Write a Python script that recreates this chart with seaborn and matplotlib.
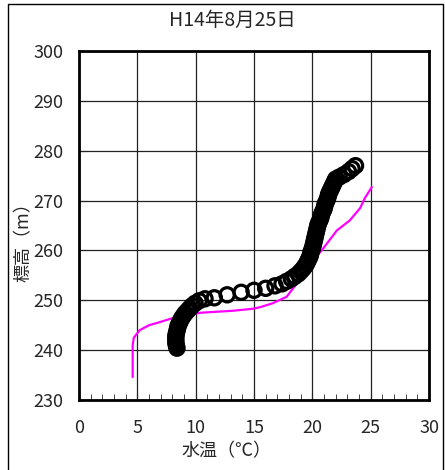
import pandas as pd
import seaborn as sns
import matplotlib.pyplot as plt
from matplotlib.patches import Rectangle
from matplotlib.ticker import MultipleLocator

# observed profile (circles)
obs_temp = [8.4, 8.35, 8.3, 8.3, 8.3, 8.3, 8.35, 8.4, 8.45, 8.5, 8.6, 8.7, 8.8, 8.95, 9.1,
            9.3, 9.5, 9.7, 9.95, 10.3, 10.8, 11.6, 12.7, 13.9, 15.0, 16.0, 16.8, 17.4, 17.8,
            18.2, 18.5, 18.8, 19.0, 19.2, 19.35, 19.5, 19.6, 19.7, 19.8, 19.85, 19.9, 20.0,
            20.05, 20.1, 20.15, 20.2, 20.25, 20.3, 20.35, 20.4, 20.45, 20.5, 20.6, 20.7, 20.75,
            20.8, 20.9, 21.0, 21.05, 21.1, 21.2, 21.3, 21.35, 21.4, 21.5, 21.6, 21.7, 21.8,
            21.9, 22.0, 22.3, 22.7, 23.1, 23.4, 23.7]
obs_elev = [240.4, 240.9, 241.4, 241.9, 242.4, 242.9, 243.4, 243.9, 244.4, 244.9, 245.4,
            245.9, 246.4, 246.9, 247.4, 247.9, 248.4, 248.9, 249.4, 249.9, 250.3, 250.5,
            251.1, 251.6, 252.0, 252.4, 252.9, 253.3, 253.8, 254.3, 254.8, 255.3, 255.8,
            256.3, 256.8, 257.3, 257.8, 258.3, 258.8, 259.3, 259.8, 260.3, 260.8, 261.3,
            261.8, 262.3, 262.8, 263.3, 263.8, 264.3, 264.8, 265.3, 265.8, 266.3, 266.8,
            267.3, 267.8, 268.3, 268.8, 269.3, 269.8, 270.3, 270.8, 271.3, 271.8, 272.3,
            272.8, 273.3, 273.8, 274.3, 274.7, 275.2, 275.8, 276.4, 277.0]

# calculated profile (magenta line)
calc_temp = [4.6, 4.6, 4.6, 4.7, 5.2, 6.0, 6.9, 8.4, 10.4, 13.2, 14.9, 15.5, 16.6, 17.8,
             18.7, 19.2, 20.0, 20.8, 22.1, 23.2, 24.1, 24.5, 25.1]
calc_elev = [234.6, 238.0, 241.0, 242.5, 244.0, 245.0, 245.6, 246.7, 247.5, 247.9, 248.3,
             248.6, 249.4, 250.7, 253.5, 254.7, 257.8, 260.0, 264.0, 266.0, 268.5, 270.5,
             272.7]

obs = pd.DataFrame({"temp": obs_temp, "elev": obs_elev})
calc = pd.DataFrame({"temp": calc_temp, "elev": calc_elev})

sns.set_style("white")
plt.rcParams['font.family'] = ['Noto Sans CJK JP', 'DejaVu Sans']

fig = plt.figure(figsize=(4.45, 4.70), dpi=100)
ax = fig.add_axes([79 / 445, 70 / 470, 350 / 445, 349 / 470])

sns.lineplot(data=calc, x="temp", y="elev", orient="y", color="#FF00FF", linewidth=1.6, ax=ax)
sns.scatterplot(data=obs, x="temp", y="elev", s=105, facecolor="none", edgecolor="black",
                linewidth=2.3, ax=ax, zorder=3)

ax.set_xlim(0, 30)
ax.set_ylim(230, 300)
ax.xaxis.set_major_locator(MultipleLocator(5))
ax.xaxis.set_minor_locator(MultipleLocator(1))
ax.yaxis.set_major_locator(MultipleLocator(10))
ax.grid(True, which="major", color="#222222", linewidth=0.9)
ax.set_axisbelow(True)
ax.tick_params(axis="x", which="major", direction="in", length=5, pad=14, labelsize=13, bottom=True)
ax.tick_params(axis="x", which="minor", direction="in", length=4, bottom=True)
ax.tick_params(axis="y", which="major", direction="in", length=5, pad=11, labelsize=13, left=True)
for s in ax.spines.values():
    s.set_color("black")
    s.set_linewidth(2)

ax.set_xlabel("水温（℃）", fontsize=13)
ax.set_ylabel("標高（m）", fontsize=13)
ax.xaxis.set_label_coords(0.42, -0.12)
ax.yaxis.set_label_coords(-0.133, 0.464)

fig.text(232 / 445, 1 - 20 / 470, "H14年8月25日", ha="center", va="center", fontsize=14)
fig.add_artist(Rectangle((8 / 445, -0.01), 435 / 445, 1 - 4 / 470 + 0.01,
                         transform=fig.transFigure, fill=False, edgecolor="black", linewidth=1))

fig.savefig("out.png", dpi=100)
